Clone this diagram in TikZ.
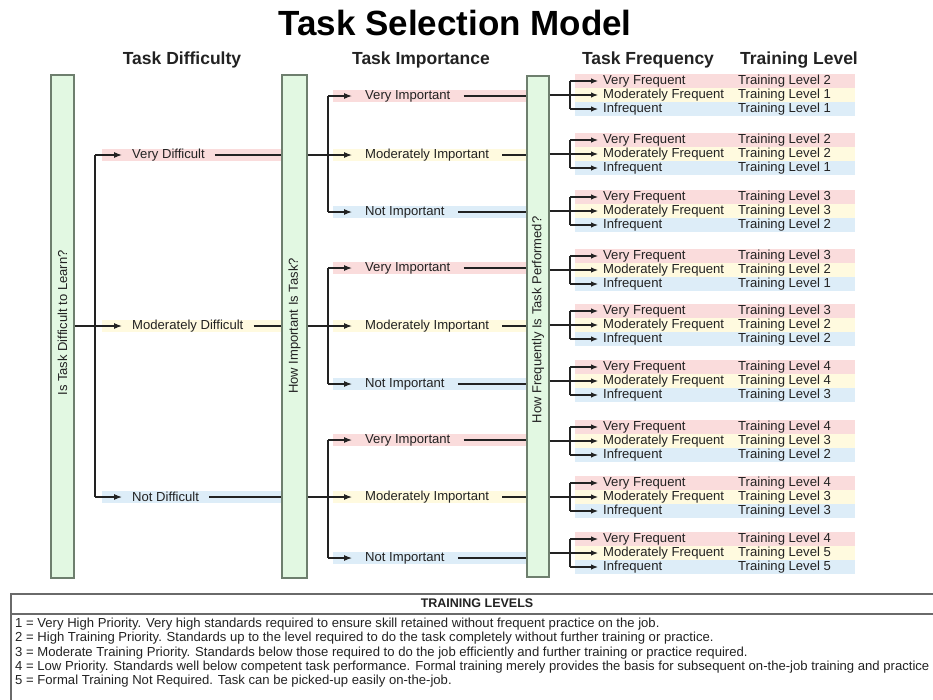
\documentclass[tikz,border=0pt]{standalone}
\usepackage{fontspec}
\setmainfont{Liberation Sans}
\usetikzlibrary{arrows.meta}
\definecolor{barfill}{HTML}{E2F8E2}
\definecolor{barline}{HTML}{6E7F6E}
\definecolor{pinkband}{HTML}{FADCDC}
\definecolor{yellowband}{HTML}{FFFADF}
\definecolor{blueband}{HTML}{DDEDF8}
\definecolor{ink}{HTML}{222222}
\definecolor{boxline}{HTML}{6A6A6A}
\tikzset{
  conn/.style={draw=ink, line width=1.1pt},
  arr/.style={conn, -{Latex[length=8pt,width=6pt]}},
  farr/.style={conn, -{Latex[length=7pt,width=5.5pt]}},
  bar/.style={draw=barline, line width=1.3pt, fill=barfill, minimum height=503pt, inner sep=0pt},
  bartext/.style={rotate=90, font=\fontsize{13}{15}\selectfont, text=ink},
  lbl/.style={anchor=west, font=\fontsize{13.1}{15}\selectfont, text=ink, inner ysep=0pt},
  dlbl/.style={lbl, inner xsep=10pt},
  ilbl/.style={lbl, inner xsep=13pt},
  flbl/.style={lbl, inner xsep=5pt},
  tlbl/.style={lbl, inner xsep=0pt},
  head/.style={anchor=base, font=\fontsize{17.5}{20}\bfseries\selectfont, text=ink},
  legtext/.style={anchor=west, font=\fontsize{13.1}{15}\selectfont, text=ink, inner sep=0pt},
  legbox/.style={draw=boxline, line width=1.6pt, anchor=north west, inner sep=0pt},
}
\begin{document}
\begin{tikzpicture}[x=1pt,y=-1pt]
\useasboundingbox (0,0) rectangle (933,699);
% title and headers
\node[font=\fontsize{35}{40}\bfseries\selectfont, text=black] (title) at (455,23) {Task Selection Model};
\node[head] (h1) at (182,64) {Task Difficulty};
\node[head] (h2) at (421,64) {Task Importance};
\node[head] (h3) at (648,64) {Task Frequency};
\node[head] (h4) at (799,64) {Training Level};
% bands: difficulty
\fill[pinkband]   (102,149) rectangle (282,161);
\fill[yellowband] (102,320) rectangle (282,332);
\fill[blueband]   (102,491) rectangle (282,503);
% bands: importance
\foreach \ya/\yb/\yc in {96/155/212, 268/326/384, 440/497/558}{
  \fill[pinkband]   (333,\ya-6) rectangle (527,\ya+6);
  \fill[yellowband] (333,\yb-6) rectangle (527,\yb+6);
  \fill[blueband]   (333,\yc-6) rectangle (527,\yc+6);
}
% bands: frequency
\foreach \my in {95,154,211,270,325,381,441,497,553}{
  \fill[pinkband]   (575,\my-21) rectangle (855,\my-7);
  \fill[yellowband] (575,\my-7) rectangle (855,\my+7);
  \fill[blueband]   (575,\my+7) rectangle (855,\my+21);
}
% bars
\node[bar, minimum width=23pt] (b1) at (62.5,326.5) {};
\node[bar, minimum width=25pt] (b2) at (294.5,326.5) {};
\node[bar, minimum width=22pt, minimum height=501pt] (b3) at (538,326.5) {};
\node[bartext] (t1) at (62.5,323) {Is Task Difficult to Learn?};
\node[bartext] (t2) at (294.5,326) {How Important Is Task?};
\node[bartext] (t3) at (538,320) {How Frequently Is Task Performed?};
% difficulty
\node[dlbl] (d1) at (122,155) {Very Difficult};
\node[dlbl] (d2) at (122,326) {Moderately Difficult};
\node[dlbl] (d3) at (122,497) {Not Difficult};
\coordinate (ds) at (95,326);
\coordinate (dst) at (95,155);
\coordinate (dsb) at (95,497);
\draw[conn] (b1.east |- ds) -- (ds);
\draw[conn] (dst) -- (dsb);
\foreach \i in {1,2,3}{
  \draw[arr] (ds |- d\i.west) -- (d\i.west);
  \draw[conn] (d\i.east) -- (d\i.east -| b2.west);
}
% importance
\foreach \g/\ya/\yb/\yc in {1/96/155/212, 2/268/326/384, 3/440/497/558}{
  \coordinate (is\g) at (328,\yb);
  \coordinate (ist\g) at (328,\ya);
  \coordinate (isb\g) at (328,\yc);
  \node[ilbl] (i\g a) at (352,\ya) {Very Important};
  \node[ilbl] (i\g b) at (352,\yb) {Moderately Important};
  \node[ilbl] (i\g c) at (352,\yc) {Not Important};
  \draw[conn] (b2.east |- d\g.west) -- (is\g);
  \draw[conn] (ist\g) -- (isb\g);
  \draw[arr] (ist\g) -- (i\g a.west);
  \draw[arr] (is\g) -- (i\g b.west);
  \draw[arr] (isb\g) -- (i\g c.west);
  \draw[conn] (i\g a.east) -- (i\g a.east -| b3.west);
  \draw[conn] (i\g b.east) -- (i\g b.east -| b3.west);
  \draw[conn] (i\g c.east) -- (i\g c.east -| b3.west);
}
% frequency and training level
\foreach \k/\my/\la/\lb/\lc in {1/95/2/1/1, 2/154/2/2/1, 3/211/3/3/2, 4/270/3/2/1, 5/325/3/2/2, 6/381/4/4/3, 7/441/4/3/2, 8/497/4/3/3, 9/553/4/5/5}{
  \coordinate (fs\k) at (570,\my);
  \coordinate (fa\k) at (570,\my-14);
  \coordinate (fc\k) at (570,\my+14);
  \node[flbl] (f\k a) at (598,\my-14) {Very Frequent};
  \node[flbl] (f\k b) at (598,\my) {Moderately Frequent};
  \node[flbl] (f\k c) at (598,\my+14) {Infrequent};
  \node[tlbl] (l\k a) at (738,\my-14) {Training Level \la};
  \node[tlbl] (l\k b) at (738,\my) {Training Level \lb};
  \node[tlbl] (l\k c) at (738,\my+14) {Training Level \lc};
  \draw[conn] (b3.east |- fs\k) -- (fs\k);
  \draw[conn] (fa\k) -- (fc\k);
  \draw[farr] (fa\k) -- (f\k a.west);
  \draw[farr] (fs\k) -- (f\k b.west);
  \draw[farr] (fc\k) -- (f\k c.west);
}
% legend
\node[legbox, minimum width=940pt, minimum height=130pt] (legend) at (10,593) {};
\node[legbox, minimum width=940pt, minimum height=20pt] (leghead) at (10,593) {};
\node[font=\fontsize{12.5}{14}\bfseries\selectfont, text=ink] (legtitle) at (477,603) {TRAINING LEVELS};
\node[legtext] (leg1) at (15,624) {1 = Very High Priority. Very high standards required to ensure skill retained without frequent practice on the job.};
\node[legtext] (leg2) at (15,638.5) {2 = High Training Priority. Standards up to the level required to do the task completely without further training or practice.};
\node[legtext] (leg3) at (15,653) {3 = Moderate Training Priority. Standards below those required to do the job efficiently and further training or practice required.};
\node[legtext] (leg4) at (15,667) {4 = Low Priority. Standards well below competent task performance. Formal training merely provides the basis for subsequent on-the-job training and practice};
\node[legtext] (leg5) at (15,681) {5 = Formal Training Not Required. Task can be picked-up easily on-the-job.};
\end{tikzpicture}
\end{document}
